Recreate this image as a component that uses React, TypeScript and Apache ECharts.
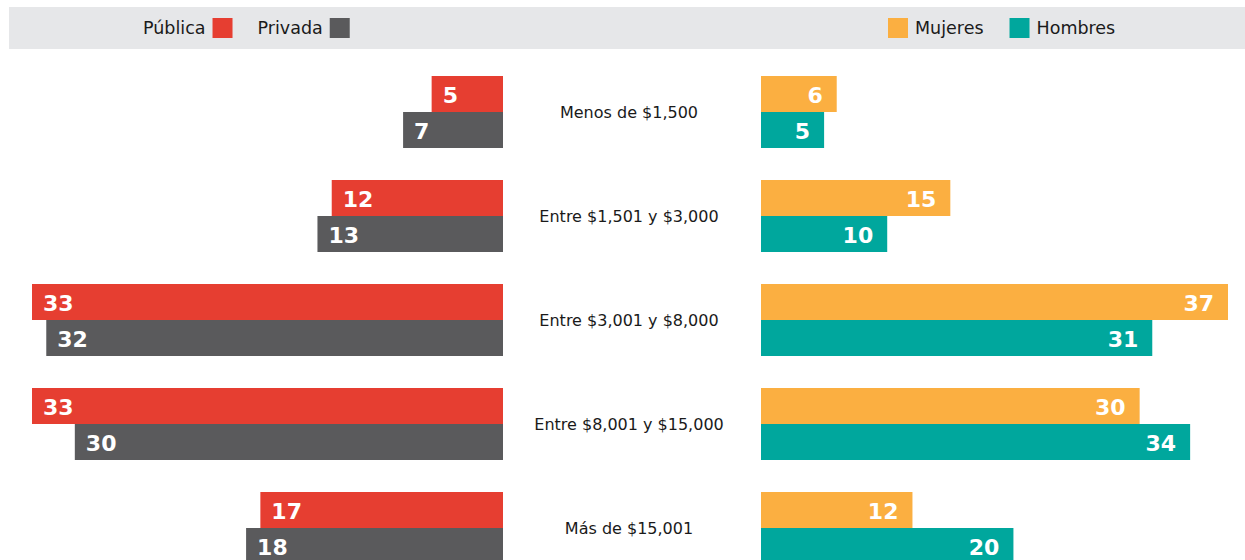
import React, { useEffect, useRef } from "react";
import * as echarts from "echarts";

const categories = [
  "Menos de $1,500",
  "Entre $1,501 y $3,000",
  "Entre $3,001 y $8,000",
  "Entre $8,001 y $15,000",
  "Más de $15,001",
];
const publica = [5, 12, 33, 33, 17];
const privada = [7, 13, 32, 30, 18];
const mujeres = [6, 15, 37, 30, 12];
const hombres = [5, 10, 31, 34, 20];

const RED = "#E63E31";
const GRAY = "#5A5A5C";
const ORANGE = "#FBAF41";
const TEAL = "#00A79D";
const FONT = "'DejaVu Sans', sans-serif";

const barLabel = (pos: string, offX: number) => ({
  show: true,
  position: pos,
  offset: [offX, 1],
  color: "#fff",
  fontFamily: FONT,
  fontWeight: "bold",
  fontSize: 22,
});

export default function App() {
  const ref = useRef<HTMLDivElement>(null);
  useEffect(() => {
    document.body.style.margin = "0";
    document.body.style.overflow = "hidden";
    if (!ref.current) return;
    const chart = echarts.init(ref.current, null, { renderer: "svg" });
    const gridTop = 60;
    const gridH = 520;
    chart.setOption({
      animation: false,
      backgroundColor: "#fff",
      graphic: [
        {
          type: "rect",
          shape: { x: 9, y: 7, width: 1240, height: 42 },
          style: { fill: "#E6E7E9" },
          z: -10,
        },
      ],
      legend: [
        {
          data: ["Pública", "Privada"],
          left: 143,
          top: 18,
          padding: 0,
          align: "right",
          itemWidth: 20,
          itemHeight: 20,
          itemGap: 25,
          textStyle: { fontFamily: FONT, fontSize: 17.5, color: "#1a1a1a", padding: [0, 2, 0, 0] },
          icon: "rect",
        },
        {
          data: ["Mujeres", "Hombres"],
          left: 888,
          top: 18,
          padding: 0,
          align: "left",
          itemWidth: 20,
          itemHeight: 20,
          itemGap: 26,
          textStyle: { fontFamily: FONT, fontSize: 17.5, color: "#1a1a1a", padding: [0, 0, 0, 2] },
          icon: "rect",
        },
      ],
      grid: [
        { left: 32, width: 471, top: gridTop, height: gridH },
        { left: 761, width: 467, top: gridTop, height: gridH },
      ],
      xAxis: [
        { type: "value", gridIndex: 0, inverse: true, min: 0, max: 33, show: false },
        { type: "value", gridIndex: 1, min: 0, max: 37, show: false },
      ],
      yAxis: [
        { type: "category", gridIndex: 0, data: categories, inverse: true, show: false },
        {
          type: "category",
          gridIndex: 1,
          data: categories,
          inverse: true,
          axisLine: { show: false },
          axisTick: { show: false },
          axisLabel: {
            margin: 132,
            align: "center",
            fontFamily: FONT,
            fontSize: 16,
            color: "#1a1a1a",
            padding: [4, 0, 0, 0],
          },
        },
      ],
      series: [
        {
          name: "Pública",
          type: "bar",
          xAxisIndex: 0,
          yAxisIndex: 0,
          data: publica,
          barWidth: 36,
          barGap: "0%",
          itemStyle: { color: RED },
          label: barLabel("insideLeft", 6),
        },
        {
          name: "Privada",
          type: "bar",
          xAxisIndex: 0,
          yAxisIndex: 0,
          data: privada,
          barWidth: 36,
          barGap: "0%",
          itemStyle: { color: GRAY },
          label: barLabel("insideLeft", 6),
        },
        {
          name: "Mujeres",
          type: "bar",
          xAxisIndex: 1,
          yAxisIndex: 1,
          data: mujeres,
          barWidth: 36,
          barGap: "0%",
          itemStyle: { color: ORANGE },
          label: barLabel("insideRight", -9),
        },
        {
          name: "Hombres",
          type: "bar",
          xAxisIndex: 1,
          yAxisIndex: 1,
          data: hombres,
          barWidth: 36,
          barGap: "0%",
          itemStyle: { color: TEAL },
          label: barLabel("insideRight", -9),
        },
      ],
    });
    return () => chart.dispose();
  }, []);
  return (
    <div style={{ width: 1245, height: 560, overflow: "hidden" }}>
      <div ref={ref} style={{ width: 1245, height: 620 }} />
    </div>
  );
}
